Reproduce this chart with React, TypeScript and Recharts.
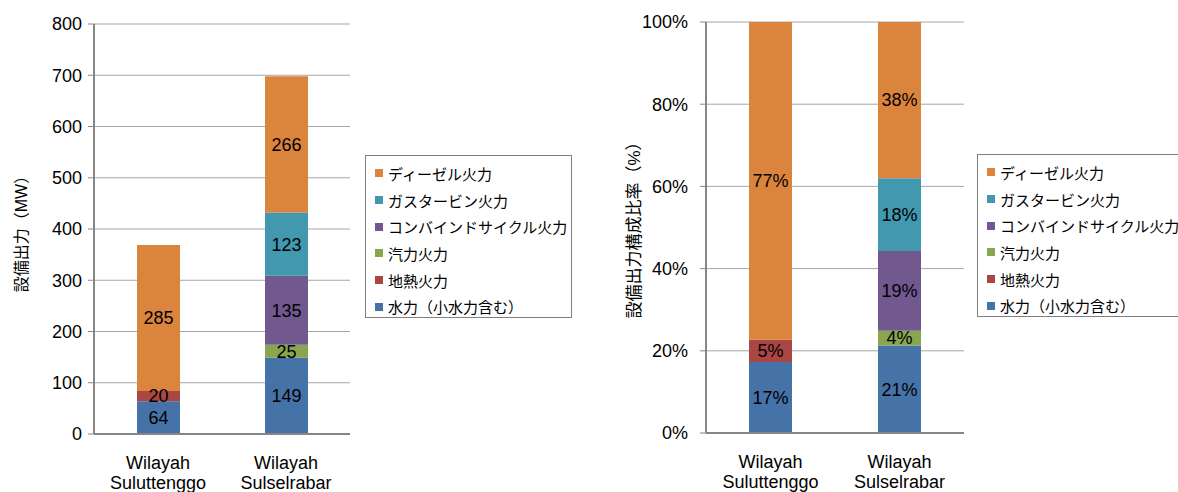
import { Bar, BarChart, CartesianGrid, LabelList, Legend, XAxis, YAxis } from "recharts";

const categories = ["Wilayah Suluttenggo", "Wilayah Sulselrabar"];

// 設備出力 (MW)
const hydroMW = [64, 149];
const geothermalMW = [20, 0];
const steamMW = [0, 25];
const combinedMW = [0, 135];
const gasTurbineMW = [0, 123];
const dieselMW = [285, 266];

// 設備出力構成比率 (%)
const hydroPct = [17.3, 21.3];
const geothermalPct = [5.4, 0];
const steamPct = [0, 3.6];
const combinedPct = [0, 19.4];
const gasTurbinePct = [0, 17.7];
const dieselPct = [77.3, 38.0];

const mwTicks = [0, 100, 200, 300, 400, 500, 600, 700, 800];
const pctTicks = [0, 20, 40, 60, 80, 100];

const series = [
  { key: "hydro", name: "水力（小水力含む）", color: "#4572A7" },
  { key: "geothermal", name: "地熱火力", color: "#AA4643" },
  { key: "steam", name: "汽力火力", color: "#89A54E" },
  { key: "combined", name: "コンバインドサイクル火力", color: "#71588F" },
  { key: "gasTurbine", name: "ガスタービン火力", color: "#4198AF" },
  { key: "diesel", name: "ディーゼル火力", color: "#DB843D" },
];

const mwData = categories.map((name, i) => ({
  name,
  hydro: hydroMW[i],
  geothermal: geothermalMW[i],
  steam: steamMW[i],
  combined: combinedMW[i],
  gasTurbine: gasTurbineMW[i],
  diesel: dieselMW[i],
}));

const pctData = categories.map((name, i) => ({
  name,
  hydro: hydroPct[i],
  geothermal: geothermalPct[i],
  steam: steamPct[i],
  combined: combinedPct[i],
  gasTurbine: gasTurbinePct[i],
  diesel: dieselPct[i],
}));

const font = '"Liberation Sans", Arial, "Noto Sans CJK JP", sans-serif';
const axisColor = "#868686";
const gridColor = "#a6a6a6";

function CategoryTick({ x, y, payload }: any) {
  const [first, second] = String(payload.value).split(" ");
  return (
    <text x={x} y={y} textAnchor="middle" fill="#000" fontSize={18} fontFamily={font}>
      <tspan x={x} dy={35}>{first}</tspan>
      <tspan x={x} dy={20}>{second}</tspan>
    </text>
  );
}

// legend lists the stack top-down, like the bars
function LegendBox({ height }: { height: number }) {
  const items = [...series].reverse();
  return (
    <div
      style={{
        width: 207,
        height,
        boxSizing: "border-box",
        border: "1px solid #7f7f7f",
        background: "#fff",
        paddingTop: 4,
        fontFamily: font,
        fontSize: 15,
        color: "#000",
      }}
    >
      {items.map((item) => (
        <div
          key={item.key}
          style={{ display: "flex", alignItems: "center", height: 26.7, whiteSpace: "nowrap" }}
        >
          <span
            style={{ width: 8, height: 8, background: item.color, marginLeft: 9, marginRight: 5 }}
          />
          <span>{item.name}</span>
        </div>
      ))}
    </div>
  );
}

function StackedPanel({
  data,
  width,
  yAxisWidth,
  top,
  plotBottom,
  plotRight,
  domain,
  ticks,
  tickMargin,
  tickFormat,
  labelFormat,
  legendLeft,
  legendTop,
}: any) {
  return (
    <BarChart
      width={width}
      height={492}
      data={data}
      barSize={43}
      margin={{ top, right: width - plotRight, left: 0, bottom: 0 }}
    >
      <CartesianGrid stroke={gridColor} vertical={false} />
      <XAxis
        dataKey="name"
        height={492 - plotBottom}
        axisLine={{ stroke: axisColor, strokeWidth: 2 }}
        tickLine={false}
        tickSize={0}
        tickMargin={0}
        interval={0}
        tick={<CategoryTick />}
      />
      <YAxis
        width={yAxisWidth}
        domain={domain}
        ticks={ticks}
        interval={0}
        tickFormatter={tickFormat}
        axisLine={{ stroke: axisColor, strokeWidth: 2 }}
        tickLine={{ stroke: axisColor }}
        tickSize={6}
        tickMargin={tickMargin}
        tick={{ fill: "#000", fontSize: 18, fontFamily: font }}
      />
      <Legend
        layout="vertical"
        align="center"
        verticalAlign="middle"
        wrapperStyle={{ left: legendLeft, top: legendTop }}
        content={() => <LegendBox height={163} />}
      />
      {series.map((s) => (
        <Bar
          key={s.key}
          dataKey={s.key}
          name={s.name}
          stackId="a"
          fill={s.color}
          isAnimationActive={false}
        >
          <LabelList
            dataKey={s.key}
            position="center"
            formatter={labelFormat}
            fill="#000"
            fontSize={18}
            fontFamily={font}
          />
        </Bar>
      ))}
    </BarChart>
  );
}

function AxisTitle({ text, x, y, size }: { text: string; x: number; y: number; size: number }) {
  return (
    <div
      style={{
        position: "absolute",
        left: x,
        top: y,
        transform: "translate(-50%, -50%) rotate(-90deg)",
        whiteSpace: "nowrap",
        fontFamily: font,
        fontSize: size,
        color: "#000",
      }}
    >
      {text}
    </div>
  );
}

export default function App() {
  return (
    <div
      style={{
        position: "absolute",
        left: 0,
        top: 0,
        width: 1178,
        height: 492,
        overflow: "hidden",
        background: "#fff",
      }}
    >
      <div style={{ position: "absolute", left: 0, top: 0 }}>
        <StackedPanel
          data={mwData}
          width={590}
          yAxisWidth={94}
          top={24}
          plotBottom={434}
          plotRight={350}
          domain={[0, 800]}
          ticks={mwTicks}
          tickMargin={6}
          tickFormat={(v: number) => `${v}`}
          labelFormat={(v: number) => (v ? `${v}` : "")}
          legendLeft={365}
          legendTop={155}
        />
      </div>
      <div style={{ position: "absolute", left: 590, top: 0 }}>
        <StackedPanel
          data={pctData}
          width={588}
          yAxisWidth={116}
          top={22}
          plotBottom={433}
          plotRight={374}
          domain={[0, 100]}
          ticks={pctTicks}
          tickMargin={12}
          tickFormat={(v: number) => `${v}%`}
          labelFormat={(v: number) => (v ? `${Math.round(v)}%` : "")}
          legendLeft={387}
          legendTop={154}
        />
      </div>
      <AxisTitle text="設備出力（MW）" x={20} y={230} size={16} />
      <AxisTitle text="設備出力構成比率（%）" x={632} y={226} size={17} />
    </div>
  );
}
